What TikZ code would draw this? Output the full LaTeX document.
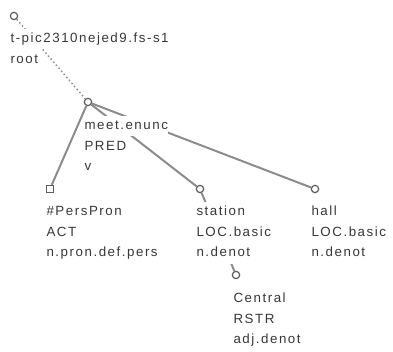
\documentclass[tikz,border=0pt]{standalone}
\usepackage{fontspec}
\setmainfont{Liberation Sans}[LetterSpace=11.5]

\definecolor{edgegray}{HTML}{8C8C8C}
\definecolor{nodegray}{HTML}{5C5C5C}
\definecolor{textgray}{HTML}{383838}
\setlength{\fboxsep}{0pt}
\newcommand{\tline}[1]{\colorbox{white}{\rule[-5pt]{0pt}{15.5pt}#1}}

\begin{document}
\begin{tikzpicture}[x=0.75pt, y=-0.75pt, thick, >=latex]

  \tikzstyle{tnode}=[draw=nodegray, fill=white, circle, line width=0.9pt, minimum size=5.5pt, inner sep=0pt]
  \tikzstyle{tleaf}=[draw=nodegray, fill=white, rectangle, line width=0.9pt, minimum size=5.2pt, inner sep=0pt]
  \tikzstyle{tlabel}=[anchor=north west, align=left, inner sep=0pt, text=textgray, font=\fontsize{10}{15.5}\selectfont]
  \tikzstyle{edge}=[draw=edgegray, line width=1.5pt]
  \tikzstyle{rootedge}=[draw=edgegray, line width=1.1pt, dash pattern=on 1.1pt off 1.9pt]

  \useasboundingbox (0,0) rectangle (393,352);

  % Tree nodes
  \node[tnode] (root) at (14,16) {};
  \node[tnode] (meet) at (88,102) {};
  \node[tleaf] (perspron) at (50,189) {};
  \node[tnode] (station) at (200,189) {};
  \node[tnode] (hall) at (315,189) {};
  \node[tnode] (central) at (236,275) {};

  % Edges
  \draw[rootedge] (root) -- (meet);
  \draw[edge] (meet) -- (perspron);
  \draw[edge] (meet) -- (station);
  \draw[edge] (meet) -- (hall);
  \draw[edge] (station) -- (central);

  % Labels
  \node[tlabel] (root-lab) at (10,28) {\tline{t-pic2310nejed9.fs-s1}\\\tline{root}};
  \node[tlabel] (meet-lab) at (84,115) {\tline{meet.enunc}\\\tline{PRED}\\\tline{v}};
  \node[tlabel] (perspron-lab) at (46,201) {\tline{\#PersPron}\\\tline{ACT}\\\tline{n.pron.def.pers}};
  \node[tlabel] (station-lab) at (196,201) {\tline{station}\\\tline{LOC.basic}\\\tline{n.denot}};
  \node[tlabel] (hall-lab) at (311,201) {\tline{hall}\\\tline{LOC.basic}\\\tline{n.denot}};
  \node[tlabel] (central-lab) at (233,288) {\tline{Central}\\\tline{RSTR}\\\tline{adj.denot}};

\end{tikzpicture}
\end{document}
